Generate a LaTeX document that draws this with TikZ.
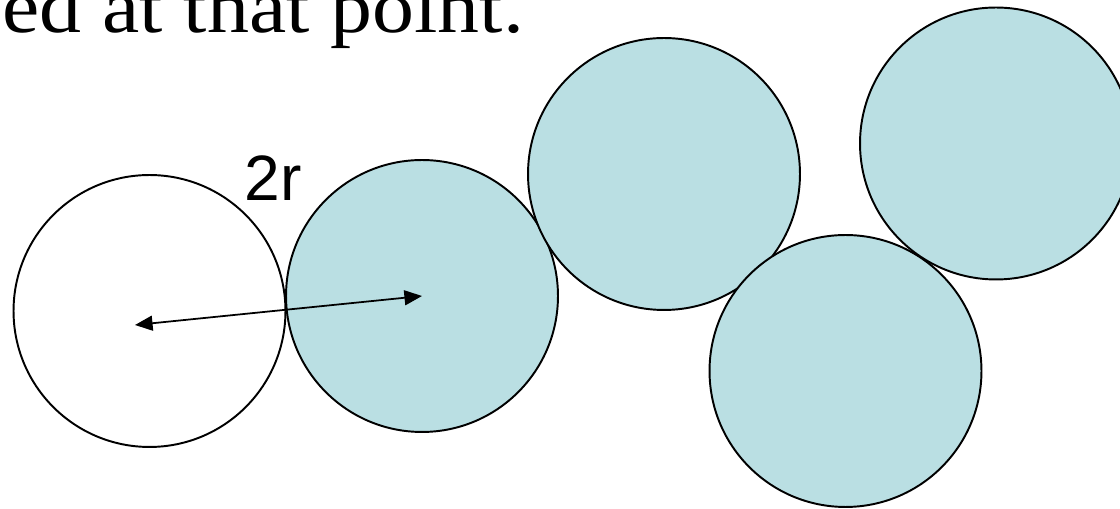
\documentclass[tikz,border=0pt]{standalone}
\usepackage{fontspec}
\setmainfont{Liberation Serif}
\newfontfamily\headfont[FakeStretch=1.11]{Liberation Serif}
\newfontfamily\labelfont{Liberation Sans}
\usetikzlibrary{arrows.meta}
\definecolor{paleteal}{RGB}{186,223,227}
\begin{document}
\begin{tikzpicture}[x=0.02cm,y=-0.02cm,
    ball/.style={circle,draw,line width=1.1pt,minimum size=5.44cm,inner sep=0pt}]
    \useasboundingbox (0,0) rectangle (1120,509);
    \clip (0,0) rectangle (1120,509);
    \node[anchor=base west,inner sep=0pt,font=\headfont\fontsize{43}{43}\selectfont] (head) at (2,33) {ed at that point.};
    \node[ball,fill=white] (A) at (149.5,311) {};
    \foreach \n/\c in {B/{422,296},C/{664,174},E/{996,143.5},D/{845.5,371}}{
        \node[ball,fill=paleteal] (\n) at (\c) {};
    }
    \coordinate (p) at (135,325);
    \node[anchor=base west,inner sep=0pt,font=\labelfont\fontsize{36.5}{36.5}\selectfont] (len) at (244,201) {2r};
    \draw[line width=1pt,{Triangle[length=10pt,width=8.5pt]}-{Triangle[length=10pt,width=8.5pt]}] (p) -- (B.center);
\end{tikzpicture}
\end{document}
